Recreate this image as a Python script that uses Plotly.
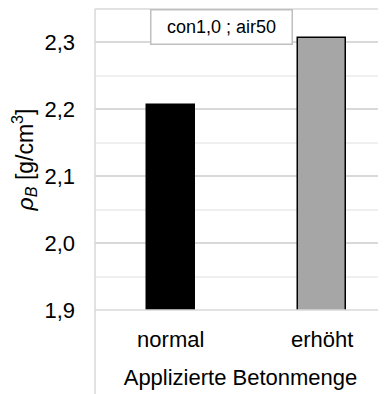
import plotly.graph_objects as go

categories = ["normal", "erhöht"]
values = [2.207, 2.306]
colors = ["#000000", "#A6A6A6"]
legend_text = "con1,0 ; air50"

fig = go.Figure()
fig.add_trace(go.Bar(
    x=categories, y=values, width=0.32,
    marker=dict(color=colors, line=dict(color="#000000", width=1.5)),
    showlegend=False,
))

font = dict(family="Liberation Sans, Arial", size=22, color="#000000")

fig.update_layout(
    width=378, height=386,
    margin=dict(l=87, r=0, t=1, b=84),
    paper_bgcolor="white", plot_bgcolor="white",
    font=font,
    xaxis=dict(
        type="category", range=[-0.5, 1.421],
        showgrid=False, showline=False, zeroline=False,
        ticks="", ticklabelstandoff=14,
        title=dict(text="Applizierte Betonmenge", standoff=18, font=font),
    ),
    yaxis=dict(
        range=[1.9, 2.35], dtick=0.1, tick0=1.9,
        tickformat=".1f",
        showgrid=True, gridcolor="#D9D9D9", gridwidth=1.5,
        minor=dict(dtick=0.05, showgrid=True, gridcolor="#EFEFEF", gridwidth=1.5),
        showline=False, zeroline=False,
        ticks="", ticklabelstandoff=19,
        title=dict(text="<i>ρ<sub>B</sub></i> [g/cm<sup>3</sup>]", standoff=14,
                   font=dict(family="Liberation Sans, Arial", size=23, color="#000")),
    ),
    separators=",.",
    bargap=0,
    shapes=[
        dict(type="line", xref="paper", yref="paper", x0=0, x1=0, y0=-0.3, y1=1,
             line=dict(color="#D9D9D9", width=1.5)),
        dict(type="line", xref="paper", yref="paper", x0=0, x1=1, y0=1, y1=1,
             line=dict(color="#D9D9D9", width=1.5)),
        dict(type="line", xref="paper", yref="paper", x0=0, x1=1, y0=0, y1=0,
             line=dict(color="#D9D9D9", width=1.5)),
    ],
    annotations=[
        dict(text=legend_text, xref="paper", yref="paper",
             x=(213 - 87) / 291, y=1, xanchor="center", yanchor="top",
             showarrow=False, font=dict(family="Liberation Sans, Arial", size=18, color="#000"),
             bgcolor="white", bordercolor="#BFBFBF", borderwidth=1.5,
             width=136, height=29, borderpad=2),
    ],
)

fig.write_html("out.html")
